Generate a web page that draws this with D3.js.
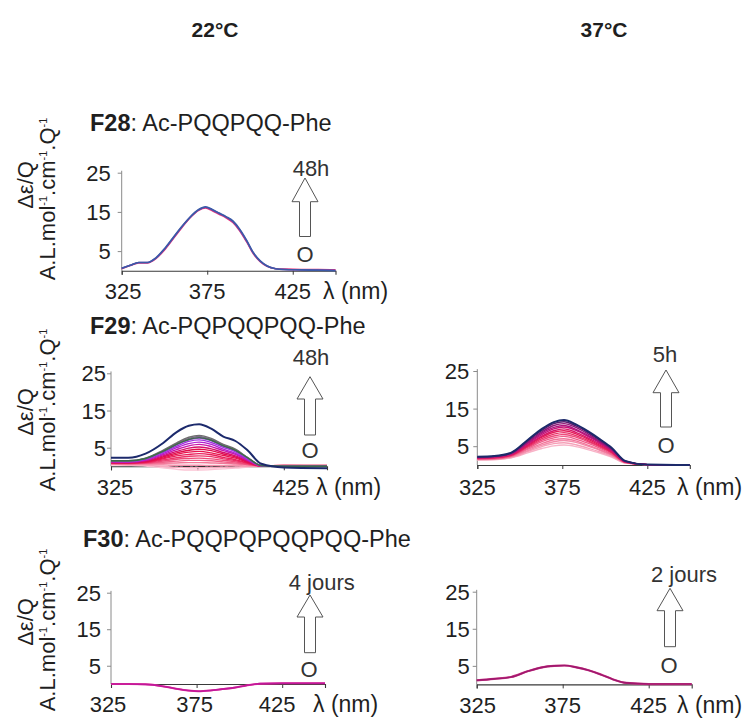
<!DOCTYPE html>
<html>
<head>
<meta charset="utf-8">
<script src="https://cdn.jsdelivr.net/npm/d3@7"></script>
<style>
  html, body { margin: 0; padding: 0; background: #fff; }
  svg { display: block; }
</style>
</head>
<body>
<svg id="chart" width="748" height="718"></svg>
<script>
// ---------------- DATA ----------------
const columnHeaders = ["22°C", "37°C"];
const xTickValues = [325, 375, 425];
const yTickValues = [5, 15, 25];

// F28 at 22°C (fine wavelength grid)
const f28Wavelengths = [325,330,335,340,345,350,355,360,365,370,374,378,382,386,390,394,398,402,406,410,415,420,430,440,450];
const f28_22C = [
  [0.5,1.3,2.0,2.0,3.1,5.3,8.1,10.9,13.5,15.4,16.0,15.3,14.4,13.5,12.3,10.2,7.4,4.3,2.3,1.1,0.5,0.4,0.3,0.3,0.2],
  [0.6,1.4,2.1,2.1,3.2,5.5,8.3,11.1,13.6,15.5,16.2,15.5,14.6,13.7,12.5,10.4,7.6,4.5,2.4,1.2,0.5,0.3,0.2,0.2,0.1],
  [0.6,1.4,2.1,2.1,3.3,5.6,8.4,11.2,13.7,15.6,16.3,15.6,14.7,13.8,12.7,10.6,7.8,4.6,2.5,1.2,0.5,0.3,0.2,0.1,0.0]
];

// common wavelength grid for the other panels
const wavelengths = [325,335,345,355,363,370,376,383,390,397,404,412,425,450];

// F29 at 22°C, from t = 0 to 48h
const f29_22C = [
  [0.4,0.3,0.1,-0.4,-0.8,-1.0,-1.0,-0.9,-0.7,-0.5,-0.2,0.1,0.2,0.2],
  [0.5,0.4,0.3,0.0,-0.3,-0.4,-0.4,-0.4,-0.3,-0.2,0.0,0.1,0.2,0.2],
  [0.6,0.5,0.5,0.4,0.3,0.3,0.3,0.2,0.2,0.2,0.1,0.1,0.2,0.2],
  [0.7,0.6,0.7,0.8,0.9,1.0,1.0,0.9,0.8,0.6,0.4,0.1,0.2,0.2],
  [0.8,0.7,0.8,1.1,1.4,1.6,1.6,1.5,1.2,0.9,0.5,0.1,0.2,0.2],
  [0.8,0.8,0.9,1.4,1.9,2.1,2.2,2.0,1.6,1.2,0.6,0.1,0.2,0.1],
  [0.9,0.8,1.0,1.7,2.3,2.7,2.8,2.6,2.0,1.5,0.8,0.1,0.1,0.1],
  [0.9,0.9,1.1,2.0,2.8,3.2,3.4,3.1,2.4,1.8,0.9,0.1,0.1,0.1],
  [1.0,0.9,1.2,2.2,3.2,3.8,4.0,3.6,2.9,2.2,1.1,0.1,0.1,0.1],
  [1.0,1.0,1.3,2.5,3.6,4.3,4.6,4.2,3.3,2.5,1.3,0.1,0.1,0.1],
  [1.1,1.0,1.4,2.8,4.0,4.9,5.2,4.7,3.7,2.8,1.4,0.1,0.1,0.1],
  [1.2,1.1,1.6,3.1,4.5,5.5,5.9,5.3,4.2,3.2,1.6,0.1,0.1,0.0],
  [1.3,1.2,1.8,3.4,5.0,6.1,6.5,5.9,4.6,3.5,1.8,0.1,0.0,0.0],
  [1.3,1.3,1.9,3.7,5.4,6.7,7.1,6.4,5.1,3.9,2.0,0.2,0.0,0.0],
  [1.4,1.4,2.0,3.9,5.8,7.1,7.6,6.9,5.4,4.2,2.2,0.2,0.0,0.0],
  [1.4,1.4,2.1,4.1,6.1,7.5,8.0,7.2,5.7,4.4,2.3,0.2,0.0,0.0],
  [1.5,1.5,2.2,4.3,6.3,7.8,8.3,7.5,5.9,4.6,2.4,0.2,0.0,0.0],
  [1.5,1.5,2.1,4.0,5.9,7.2,7.7,7.0,5.5,4.3,2.3,0.2,0.0,0.0],
  [2.3,2.3,3.4,6.2,9.2,10.9,11.3,10.1,8.0,6.8,4.3,0.7,-0.3,-0.5]
];
const f29_22C_dashWavelengths = [358, 400];
const f29_22C_dashValues = [0, 0];

// F29 at 37°C, from t = 0 to 5h
const f29_37C = [
  [1.3,1.4,1.9,3.3,4.4,5.1,5.3,4.9,4.1,3.2,2.1,0.5,0.1,0.0],
  [1.4,1.5,2.0,3.6,4.9,5.7,5.9,5.4,4.5,3.5,2.3,0.6,0.1,0.0],
  [1.5,1.6,2.2,3.9,5.3,6.2,6.5,6.0,5.0,3.9,2.6,0.6,0.1,0.0],
  [1.5,1.6,2.3,4.2,5.7,6.7,7.0,6.4,5.3,4.1,2.7,0.7,0.1,0.0],
  [1.6,1.7,2.4,4.5,6.2,7.2,7.6,6.9,5.8,4.5,2.9,0.7,0.1,0.0],
  [1.7,1.8,2.5,4.8,6.6,7.7,8.1,7.4,6.2,4.8,3.2,0.8,0.1,0.0],
  [1.7,1.9,2.6,5.0,7.0,8.2,8.6,7.8,6.5,5.0,3.3,0.8,0.1,0.0],
  [1.8,2.0,2.7,5.3,7.4,8.7,9.1,8.3,6.9,5.3,3.5,0.8,0.1,0.0],
  [1.9,2.0,2.8,5.5,7.7,9.1,9.6,8.7,7.2,5.6,3.7,0.9,0.1,0.0],
  [1.9,2.1,2.9,5.8,8.1,9.6,10.1,9.2,7.6,5.9,3.9,0.9,0.1,0.0],
  [2.0,2.2,3.0,6.0,8.5,10.0,10.5,9.5,7.9,6.1,4.0,0.9,0.1,0.0],
  [2.1,2.3,3.1,6.3,8.8,10.5,11.0,10.0,8.3,6.3,4.2,1.0,0.1,0.0],
  [2.1,2.3,3.2,6.6,9.2,11.0,11.5,10.4,8.7,6.6,4.4,1.0,0.1,0.0],
  [2.2,2.4,3.3,6.8,9.6,11.4,12.0,10.8,9.0,6.9,4.6,1.1,0.1,0.0]
];

// F30 at 22°C (4 days) and 37°C (2 days)
const f30_22C = [
  [0.0,0.0,-0.1,-0.6,-1.3,-1.8,-2.0,-1.8,-1.4,-1.0,-0.4,0.1,0.2,0.2],
  [0.0,0.0,-0.1,-0.6,-1.3,-1.8,-2.0,-1.8,-1.4,-1.0,-0.4,0.1,0.2,0.2]
];
const f30_37C = [
  [1.1,1.5,2.0,3.6,4.6,5.0,5.1,4.6,3.8,2.7,1.4,0.4,0.1,0.1],
  [1.1,1.5,2.0,3.6,4.6,5.0,5.1,4.6,3.8,2.7,1.4,0.4,0.1,0.1]
];

// ---------------- STYLES / LAYOUT ----------------
const FONT = "'Liberation Sans', Arial, Helvetica, sans-serif";
const TEXT = "#1f1f1f";
const TICK_FS = 22;

const f28Colors = ["#e8307a", "#7a4aa8", "#3a5aa8"];
const f29_22Colors = ["#fbc4d4","#f8aac0","#f590ac","#f27898","#f06088","#ee4a78","#ec3468","#ea205c","#e8144e","#e0104c","#d8106a","#c818a8","#b420d0","#a030e0","#9048d0","#806890","#6e6e6e","#3e6a4a","#1c2a6c"];
const f29_37Colors = ["#f8b4c8","#f6a0b8","#f48cab","#f2789c","#f0608c","#ee4a7c","#ea3068","#e41c58","#d81868","#c81478","#b0147e","#901878","#5a1a6e","#1c2a6a"];
const f30_22Colors = ["#e8309a", "#c0189a"];
const f30_37Colors = ["#d0408a", "#a0186e"];

const panels = [
  { wl: f28Wavelengths, series: f28_22C, colors: f28Colors, widths: [1.6,1.6,1.6],
    x: [121.7, 335.5], y0: 270.7, y25: 172.7, yLabGap: 11, tickY: 299, tickDx: [1.5,0,0], lambdaX: 323,
    title: { x: 90, y: 131, bold: "F28", rest: ": Ac-PQQPQQ-Phe" },
    ylab: { x1: 25, cy1: 185, x2: 47, cy2: 199 },
    arrow: { cx: 305, top: 178, hb: 201.7, bot: 236.5 },
    topLabel: { text: "48h", x: 311, y: 176 }, zero: { x: 305, y: 262 } },
  { wl: wavelengths, series: f29_22C, colors: f29_22Colors, widths: null,
    dash: { wl: f29_22C_dashWavelengths, v: f29_22C_dashValues },
    x: [111, 327], y0: 466.3, y25: 373.3, yLabGap: 5, tickY: 495, tickDx: [4,1,7], lambdaX: 316,
    title: { x: 90, y: 334, bold: "F29", rest: ": Ac-PQPQQPQQ-Phe" },
    ylab: { x1: 25, cy1: 412, x2: 47, cy2: 410 },
    arrow: { cx: 310, top: 376.7, hb: 399, bot: 435 },
    topLabel: { text: "48h", x: 311, y: 365 }, zero: { x: 310, y: 458 } },
  { wl: wavelengths, series: f29_37C, colors: f29_37Colors, widths: null,
    x: [477.3, 689.8], y0: 465, y25: 371, yLabGap: 8, tickY: 495, tickDx: [0,0,0], lambdaX: 677,
    title: null, ylab: null,
    arrow: { cx: 666, top: 370, hb: 392.7, bot: 427 },
    topLabel: { text: "5h", x: 665, y: 362 }, zero: { x: 666, y: 453 } },
  { wl: wavelengths, series: f30_22C, colors: f30_22Colors, widths: [2,1.6],
    x: [111, 325], y0: 684, y25: 592.7, yLabGap: 10, tickY: 712, tickDx: [-3,-2,-5], lambdaX: 313,
    title: { x: 83, y: 547, bold: "F30", rest: ": Ac-PQQPQPQQPQQ-Phe" },
    ylab: { x1: 25, cy1: 622, x2: 47, cy2: 630 },
    arrow: { cx: 310, top: 595, hb: 617, bot: 652.7 },
    topLabel: { text: "4 jours", x: 321.7, y: 590 }, zero: { x: 309, y: 676.7 } },
  { wl: wavelengths, series: f30_37C, colors: f30_37Colors, widths: [2.2,1.6],
    x: [476.7, 691.7], y0: 684.4, y25: 591.7, yLabGap: 7, tickY: 713, tickDx: [1,0,0], lambdaX: 677,
    title: null, ylab: null,
    arrow: { cx: 670, top: 588.3, hb: 610.7, bot: 646.7 },
    topLabel: { text: "2 jours", x: 684, y: 581.7 }, zero: { x: 669, y: 672.7 } }
];

// ---------------- DRAW ----------------
const svg = d3.select("#chart").style("font-family", FONT);

// column headers
svg.selectAll("text.col").data(columnHeaders).join("text")
  .attr("class", "col")
  .attr("x", (d, i) => [215, 604][i]).attr("y", 37)
  .attr("text-anchor", "middle").attr("font-weight", "bold")
  .attr("font-size", 21).attr("fill", TEXT).text(d => d);

panels.forEach(p => {
  const g = svg.append("g");
  const xs = d3.scaleLinear().domain([325, 450]).range(p.x);
  const ys = d3.scaleLinear().domain([0, 25]).range([p.y0, p.y25]);

  // x axis
  const xAxis = d3.axisBottom(xs).tickValues(xTickValues).tickSize(4).tickFormat("");
  const xg = g.append("g").attr("transform", `translate(0,${p.y0})`).call(xAxis);
  xg.select(".domain").attr("stroke", "#3a3a3a").attr("stroke-width", 1.1);
  xg.selectAll(".tick line").attr("stroke", "#3a3a3a");
  // x tick labels
  g.selectAll("text.xt").data(xTickValues).join("text")
    .attr("class", "xt")
    .attr("x", (d, i) => xs(d) + p.tickDx[i]).attr("y", p.tickY)
    .attr("text-anchor", "middle").attr("font-size", TICK_FS).attr("fill", TEXT)
    .text(d => d);
  g.append("text").attr("x", p.lambdaX).attr("y", p.tickY)
    .attr("font-size", 23).attr("fill", TEXT)
    .text("λ (nm)");

  // y axis
  const yAxis = d3.axisLeft(ys).tickValues(yTickValues).tickSize(4).tickFormat("");
  const yg = g.append("g").attr("transform", `translate(${p.x[0]},0)`).call(yAxis);
  yg.select(".domain").attr("stroke", "#8a8a8a").attr("stroke-width", 1)
    .attr("d", `M0,${p.y0}V${ys(25.5)}`);
  yg.selectAll(".tick line").attr("stroke", "#8a8a8a");
  g.selectAll("text.yt").data(yTickValues).join("text")
    .attr("class", "yt")
    .attr("x", p.x[0] - p.yLabGap).attr("y", d => ys(d) + 8)
    .attr("text-anchor", "end").attr("font-size", TICK_FS).attr("fill", TEXT)
    .text(d => d);

  // curves
  const line = d3.line()
    .x(d => xs(d[0])).y(d => ys(d[1]))
    .curve(d3.curveMonotoneX);
  if (p.dash) {
    g.append("path")
      .attr("d", line(p.dash.wl.map((w, i) => [w, p.dash.v[i]])))
      .attr("fill", "none").attr("stroke", "#333").attr("stroke-width", 1.3)
      .attr("stroke-dasharray", "7,3,2,3");
  }
  p.series.forEach((vals, si) => {
    const pts = p.wl.map((w, i) => [w, vals[i]]);
    const isLast = si === p.series.length - 1;
    g.append("path")
      .attr("d", line(pts))
      .attr("fill", "none")
      .attr("stroke", p.colors[si])
      .attr("stroke-width", p.widths ? p.widths[si] : (isLast ? 2 : 1.4))
      .attr("stroke-linejoin", "round");
  });

  // title
  if (p.title) {
    const t = g.append("text").attr("x", p.title.x).attr("y", p.title.y)
      .attr("font-size", 23.5).attr("fill", TEXT);
    t.append("tspan").attr("font-weight", "bold").text(p.title.bold);
    t.append("tspan").text(p.title.rest);
  }

  // y label
  if (p.ylab) {
    g.append("text")
      .attr("transform", `translate(${p.ylab.x1 + 8},${p.ylab.cy1}) rotate(-90)`)
      .attr("text-anchor", "middle").attr("font-size", 22).attr("fill", TEXT)
      .text("Δε/Q");
    const t2 = g.append("text")
      .attr("transform", `translate(${p.ylab.x2 + 8},${p.ylab.cy2}) rotate(-90)`)
      .attr("text-anchor", "middle").attr("font-size", 22).attr("fill", TEXT);
    const parts = [["A.L.mol", false], ["-1", true], [".cm", false], ["-1", true], [".Q", false], ["-1", true]];
    parts.forEach(([s, sup], i) => {
      const ts = t2.append("tspan").text(s);
      if (sup) ts.attr("font-size", 11).attr("dy", -8);
      else if (i > 0) ts.attr("dy", 8);
    });
  }

  // arrow
  const a = p.arrow, sw = 5.5, hw = 13;
  g.append("path")
    .attr("d", `M${a.cx - sw},${a.bot}L${a.cx - sw},${a.hb}L${a.cx - hw},${a.hb}L${a.cx},${a.top}L${a.cx + hw},${a.hb}L${a.cx + sw},${a.hb}L${a.cx + sw},${a.bot}Z`)
    .attr("fill", "#fff").attr("stroke", "#555").attr("stroke-width", 1);
  g.append("text").attr("x", p.topLabel.x).attr("y", p.topLabel.y)
    .attr("text-anchor", "middle").attr("font-size", 22).attr("fill", "#333")
    .text(p.topLabel.text);
  g.append("text").attr("x", p.zero.x).attr("y", p.zero.y)
    .attr("text-anchor", "middle").attr("font-size", 22).attr("fill", "#333")
    .text("O");
});
</script>
</body>
</html>
